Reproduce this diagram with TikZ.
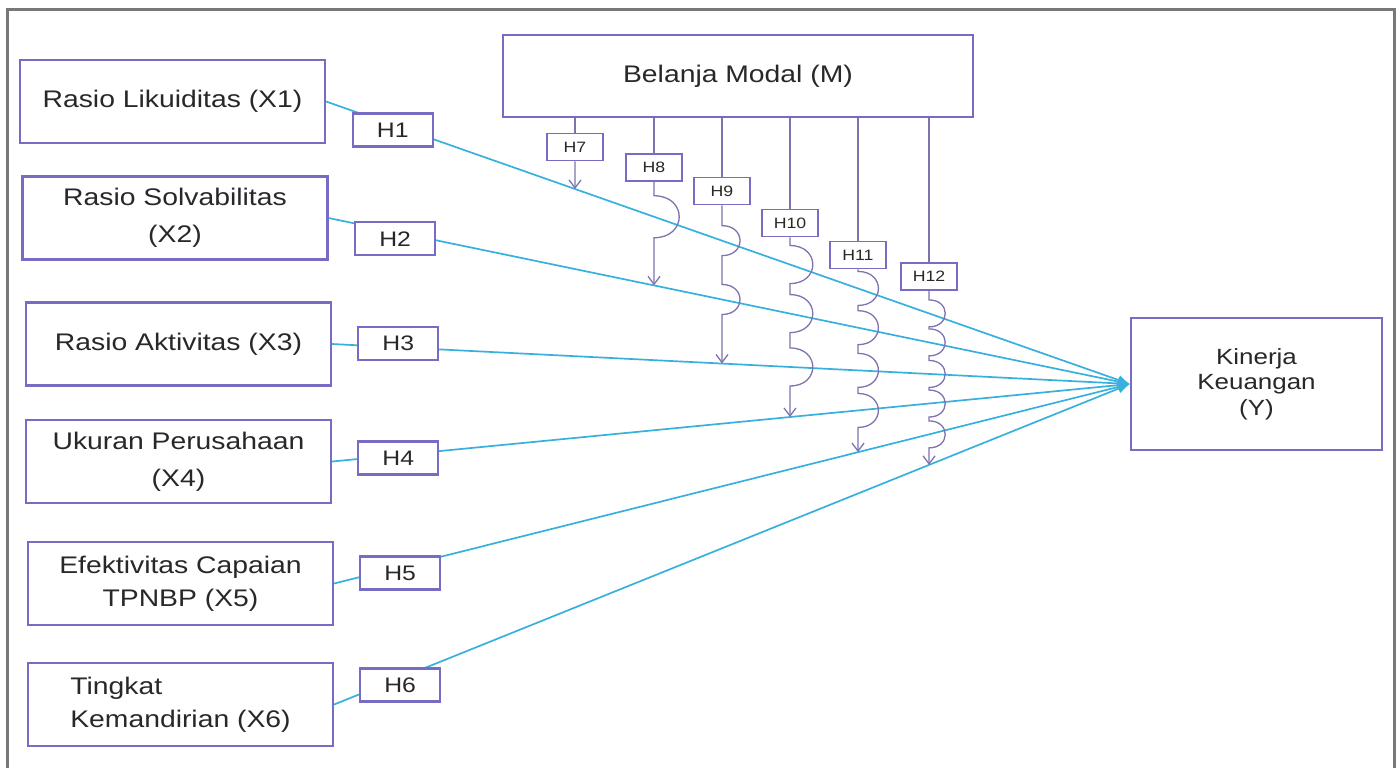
\documentclass[tikz,border=0pt]{standalone}
\usepackage{fontspec}
\setmainfont{Liberation Sans}[FakeStretch=1.18]
\usetikzlibrary{arrows.meta,calc}
\definecolor{boxblue}{RGB}{118,108,196}
\definecolor{linkcyan}{RGB}{56,176,222}
\definecolor{modgray}{RGB}{125,115,175}
\definecolor{framegray}{RGB}{120,120,120}
\definecolor{txtgray}{RGB}{40,40,40}
\tikzset{
  varbox/.style={draw=boxblue, line width=1.1pt, fill=white, text=txtgray, align=center,
    minimum width=152.5pt, minimum height=41.5pt, font=\fontsize{12}{16.5}\selectfont},
  hbox/.style={draw=boxblue, line width=1.1pt, fill=white, text=txtgray,
    minimum width=40pt, minimum height=16.5pt, inner sep=1pt, font=\fontsize{10.5}{12}\selectfont},
  hsmall/.style={draw=boxblue, line width=0.8pt, fill=white, text=txtgray,
    minimum width=28pt, minimum height=13.5pt, inner sep=1pt, font=\fontsize{7.5}{9}\selectfont},
  link/.style={draw=linkcyan, line width=0.85pt, -{Latex[length=6pt,width=5pt]}},
  modline/.style={draw=modgray, line width=0.65pt},
  modtip/.style={-{Straight Barb[length=4pt,width=6pt]}}
}
\begin{document}
\begin{tikzpicture}[x=0.5pt, y=-0.5pt]
\useasboundingbox (0,0) rectangle (1398,768);
% frame
\draw[framegray, line width=1.5pt] (7,768) -- (7,9) -- (1394,9) -- (1394,768);

% variables
\node[varbox] (x1) at (172.5,101.5) {Rasio Likuiditas (X1)};
\node[varbox] (x2) at (175,218) {Rasio Solvabilitas\\[2pt](X2)};
\node[varbox] (x3) at (178.5,344) {Rasio Aktivitas (X3)};
\node[varbox] (x4) at (178.5,461.5) {Ukuran Perusahaan\\[2pt](X4)};
\node[varbox] (x5) at (180.5,583.5) {Efektivitas Capaian\\TPNBP (X5)};
\node[varbox, align=left] (x6) at (180.5,704.5) {Tingkat\\Kemandirian (X6)};
\node[varbox, minimum width=235pt, minimum height=41pt] (mod) at (738,76) {Belanja Modal (M)};
\node[varbox, minimum width=125.5pt, minimum height=66pt,
  font=\fontsize{11}{12.8}\selectfont] (y) at (1256.5,384) {Kinerja\\Keuangan\\(Y)};

% direct effects
\foreach \i/\dy in {1/-2.5, 2/-3.5, 3/2, 4/-1.5, 5/-3, 6/-3.5}
  \draw[link] (x\i.east) -- node[hbox, pos=.083, yshift=\dy pt] (h\i) {H\i} (y.west);

% moderation labels and crossing points
\foreach \k/\xm/\yc/\j in {7/575/147/1, 8/654/167.5/2, 9/722/191/3,
    10/790/223/4, 11/858/255/5, 12/929/276.5/6} {
  \node[hsmall] (h\k) at (\xm,\yc) {H\k};
  \coordinate (t\k) at (intersection of x\j.east--y.west and \xm,0--\xm,1);
  \draw[modline] (mod.south -| h\k) -- (h\k);
}
\foreach \k/\xm/\nh in {8/654/1, 9/722/2, 10/790/3, 11/858/4, 12/929/5}
  \foreach \i in {1,...,\nh}
    \coordinate (c\k-\i) at (intersection of x\i.east--y.west and \xm,0--\xm,1);

% moderation arrows with hops
\draw[modline, modtip] (h7.south) -- (t7);
\foreach \k/\nh/\hr in {8/1/21, 9/2/15, 10/3/19, 11/4/17, 12/5/13.5}
  \draw[modline, modtip] (h\k.south)
    \foreach \i in {1,...,\nh} {
      -- ($(c\k-\i)+(0,-\hr)$) .. controls +(1.6*\hr,0) and +(1.6*\hr,0) .. ($(c\k-\i)+(0,\hr)$)
    } -- (t\k);
\end{tikzpicture}
\end{document}
